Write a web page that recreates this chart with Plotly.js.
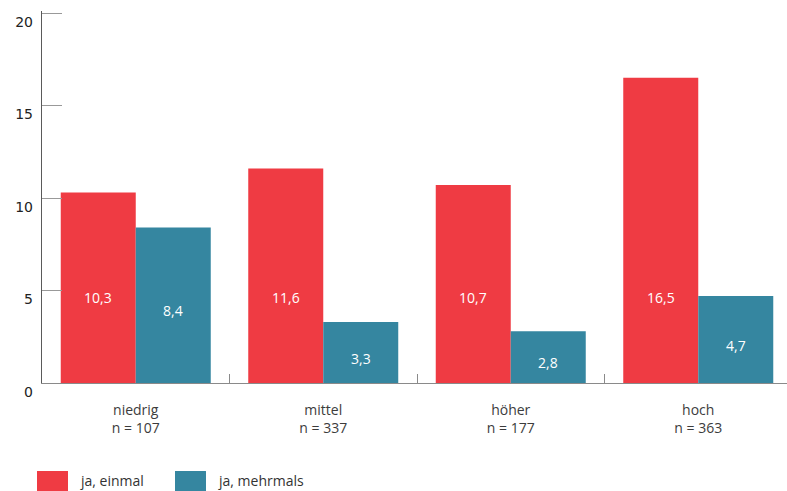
<!DOCTYPE html>
<html>
<head>
<meta charset="utf-8">
<script src="https://cdn.plot.ly/plotly-3.0.1.min.js"></script>
<style>html,body{margin:0;padding:0;background:#fff;}#chart{width:787px;height:491px;}</style>
</head>
<body>
<div id="chart"></div>
<script>
// Data
const categories = ["niedrig", "mittel", "höher", "hoch"];
const sampleSizes = ["n = 107", "n = 337", "n = 177", "n = 363"];
const seriesNames = ["ja, einmal", "ja, mehrmals"];
const einmal = [10.3, 11.6, 10.7, 16.5];
const mehrmals = [8.4, 3.3, 2.8, 4.7];
const tickLabels = ["0", "5", "10", "15", "20"];

// Styles
const colors = ["#EF3B43", "#3586A0"];
const labelFont = "'Open Sans', 'Noto Sans', sans-serif";
const xLabels = categories.map((c, i) => c + "<br>" + sampleSizes[i]);
const fmt = v => v.toFixed(1).replace(".", ",");

const seriesValues = [einmal, mehrmals];
const traces = seriesValues.map((vals, s) => ({
  type: "bar",
  name: seriesNames[s],
  x: xLabels,
  y: vals,
  marker: {color: colors[s], line: {width: 0}},
  hoverinfo: "none",
  showlegend: false
}));

// value labels inside bars
const annotations = [];
const barHalfPx = 37.5;
seriesValues.forEach((vals, s) => {
  vals.forEach((v, i) => {
    annotations.push({
      x: xLabels[i], y: Math.min(v / 2 - 0.3, 4.6),
      xref: "x", yref: "y",
      xshift: s === 0 ? -barHalfPx : barHalfPx,
      text: fmt(v), showarrow: false,
      font: {family: labelFont, size: 14, color: "#ffffff"},
      xanchor: "center", yanchor: "middle"
    });
  });
});

// custom legend
const shapes = [];
const legendX = [-0.0067, 0.1785];
const pTop = 0.995; // paper scale helper (plot height 372px)
seriesNames.forEach((n, s) => {
  shapes.push({
    type: "rect", xref: "paper", yref: "paper",
    x0: legendX[s], x1: legendX[s] + 0.0416,
    y0: -0.2366, y1: -0.31,
    fillcolor: colors[s], line: {width: 0}
  });
  annotations.push({
    xref: "paper", yref: "paper",
    x: legendX[s] + 0.0550, y: -0.2608,
    text: n, showarrow: false,
    xanchor: "left", yanchor: "middle",
    font: {family: labelFont, size: 14, color: "#333333"}
  });
});

const layout = {
  width: 787, height: 491,
  margin: {l: 42, r: 0, t: 11, b: 108, pad: 0},
  paper_bgcolor: "#ffffff", plot_bgcolor: "#ffffff",
  barmode: "group", bargap: 0.2, bargroupgap: 0,
  showlegend: false,
  xaxis: {
    type: "category",
    range: [-0.5, 3.4733],
    showline: true, linecolor: "#8a8a8a", linewidth: 1,
    tickson: "boundaries",
    ticks: "inside", ticklen: 9, tickcolor: "#8a8a8a", tickwidth: 1,
    showgrid: false, zeroline: false,
    tickfont: {family: labelFont, size: 14, color: "#3c3c3c"},
    ticklabelstandoff: 14,
    fixedrange: true
  },
  yaxis: {
    range: [0, 20.108],
    tickvals: [0, 5, 10, 15, 20],
    ticktext: tickLabels,
    showline: true, linecolor: "#5a5a5a", linewidth: 1.2,
    ticks: "inside", ticklen: 20, tickcolor: "#999999", tickwidth: 1,
    showgrid: false, zeroline: false,
    tickfont: {family: "'DejaVu Sans', sans-serif", size: 14, color: "#222222"},
    ticklabelstandoff: 5,
    ticklabelshift: 9,
    fixedrange: true
  },
  annotations: annotations,
  shapes: shapes
};

Plotly.newPlot("chart", traces, layout, {displayModeBar: false, staticPlot: true});
</script>
</body>
</html>
